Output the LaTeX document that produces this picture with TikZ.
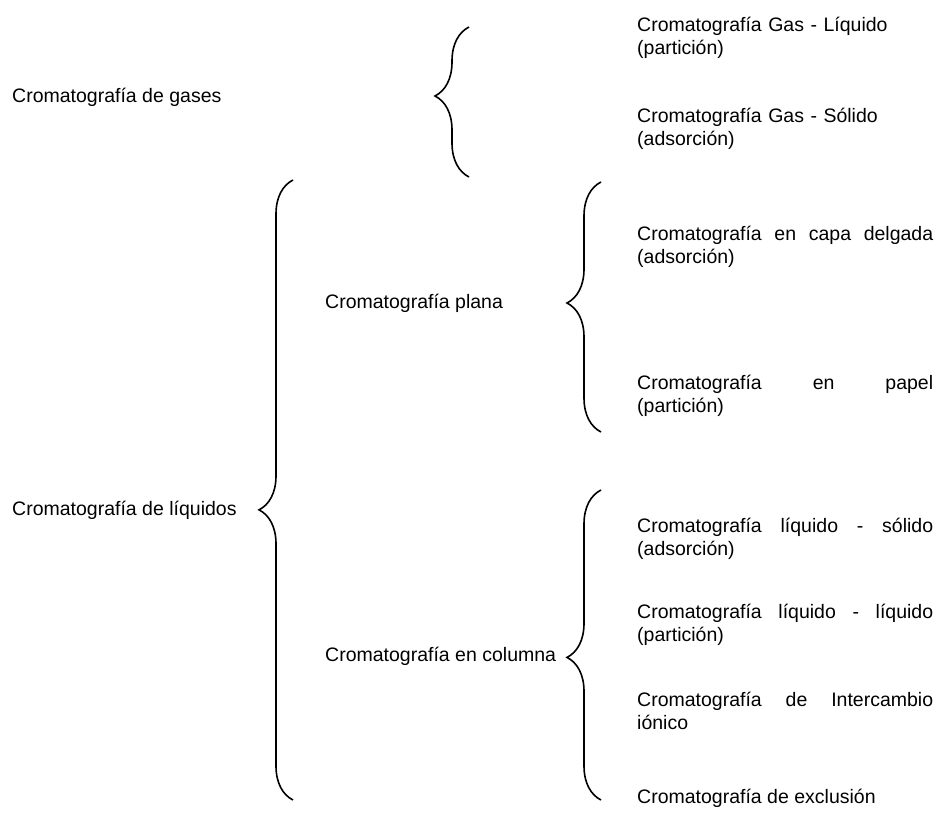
\documentclass[tikz,border=0pt]{standalone}
\usepackage{fontspec}
\setmainfont{Liberation Sans}
\usetikzlibrary{decorations.pathreplacing}

\begin{document}
\begin{tikzpicture}[x=1pt, y=-1pt,
  txt/.style={anchor=west, inner sep=0pt, font=\fontsize{19.5}{23}\selectfont},
  sub/.style={txt, text width=296pt, align=left},
  llave/.style={decorate, line width=1.6pt, decoration={brace, amplitude=34pt, aspect=#1}}]
\useasboundingbox (0,0) rectangle (940,816);
% primer nivel
\node[txt] (gases) at (12,97) {Cromatografía de gases};
\node[txt] (liquidos) at (12,510) {Cromatografía de líquidos};
% segundo nivel
\node[txt] (plana) at (325,303) {Cromatografía plana};
\node[txt] (columna) at (325,656) {Cromatografía en columna};
% tercer nivel
\node[sub] (gasliq) at (637,38) {Cromatografía Gas - Líquido\\(partición)};
\node[sub] (gassol) at (637,129) {Cromatografía Gas - Sólido\\(adsorción)};
\node[sub] (capa) at (637,247) {\hbox to 296pt{Cromatografía\hfill en\hfill capa\hfill delgada}\\(adsorción)};
\node[sub] (papel) at (637,396) {\hbox to 296pt{Cromatografía\hfill en\hfill papel}\\(partición)};
\node[sub] (liqsol) at (637,539) {\hbox to 296pt{Cromatografía\hfill líquido\hfill -\hfill sólido}\\(adsorción)};
\node[sub] (liqliq) at (637,625) {\hbox to 296pt{Cromatografía\hfill líquido\hfill -\hfill líquido}\\(partición)};
\node[sub] (ionico) at (637,711) {\hbox to 296pt{Cromatografía\hfill de\hfill Intercambio}\\iónico};
\node[txt] (exclusion) at (637,798) {Cromatografía de exclusión};
% llaves
\coordinate (a1) at (469,177);
\coordinate (a2) at (469,27);
\coordinate (b1) at (293,800);
\coordinate (b2) at (293,180);
\coordinate (c1) at (601,432);
\coordinate (c2) at (601,182);
\coordinate (d1) at (601,800);
\coordinate (d2) at (601,490);
\draw[llave=0.54] (a1) -- (a2);
\draw[llave=0.468] (b1) -- (b2);
\draw[llave=0.516] (c1) -- (c2);
\draw[llave=0.46] (d1) -- (d2);
\end{tikzpicture}
\end{document}
